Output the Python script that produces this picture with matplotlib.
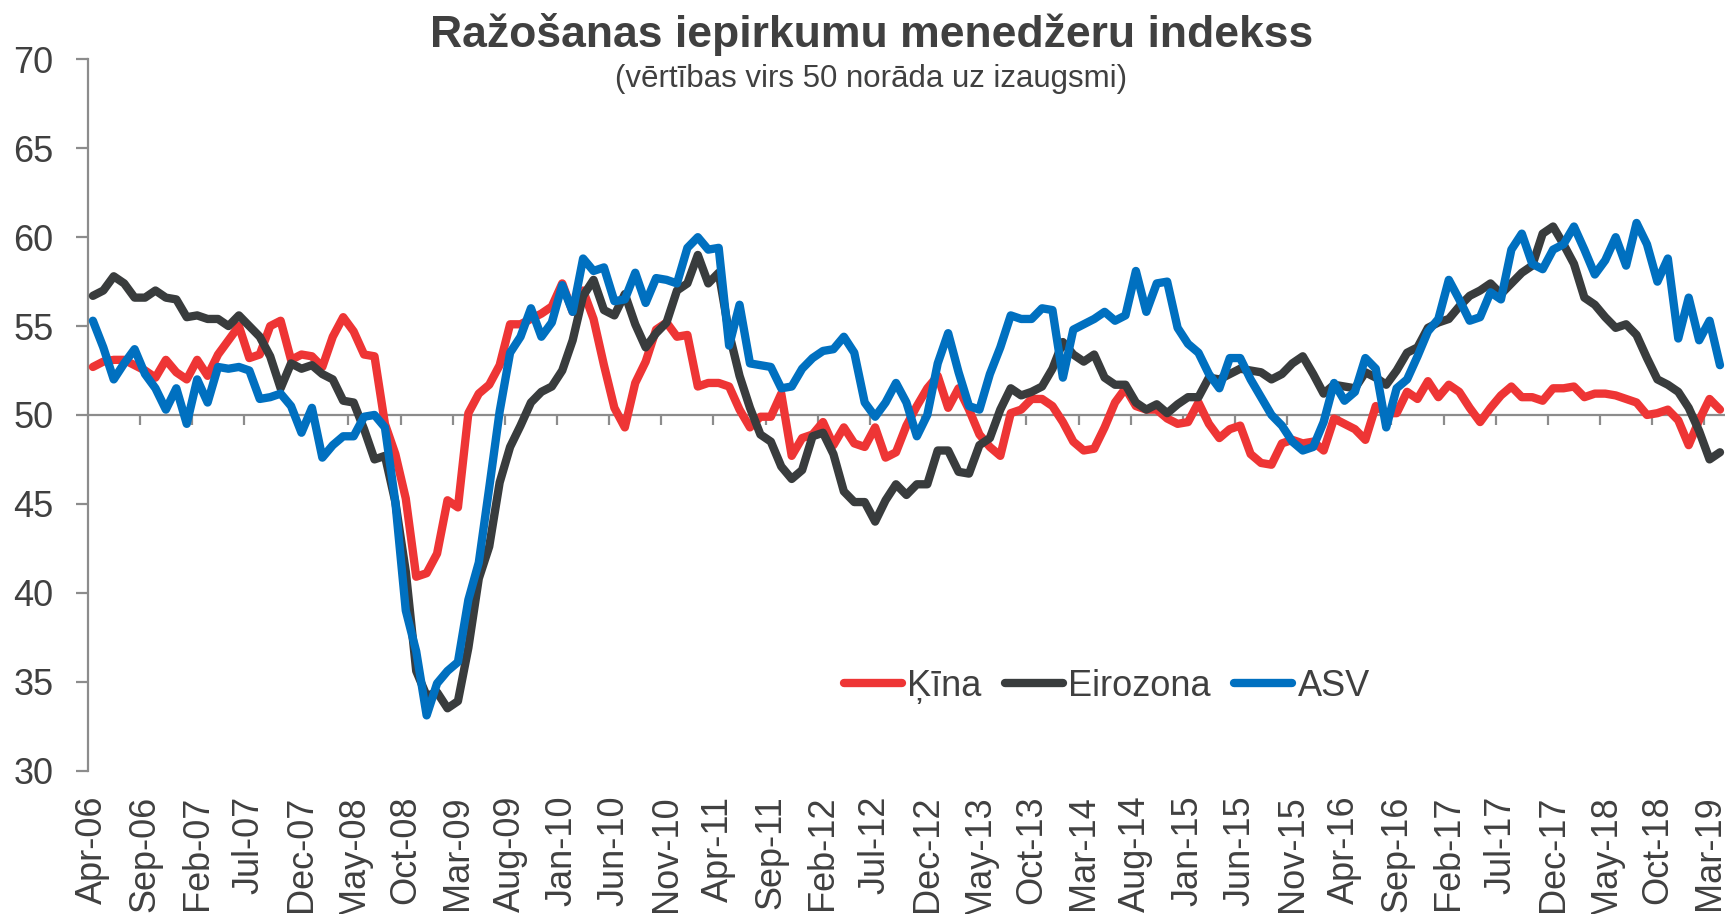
import numpy as np
import pandas as pd
import matplotlib
matplotlib.use('Agg')
import matplotlib.pyplot as plt

plt.rcParams['font.family'] = ['Liberation Sans', 'DejaVu Sans']

# Apr-06 .. Apr-19, monthly
months = pd.date_range('2006-04-01', periods=157, freq='MS')
month_labels = [d.strftime('%b-%y') for d in months]

kina = [52.7, 53.0, 53.1, 53.1, 52.8, 52.5, 52.1, 53.1, 52.4, 52.0,
        53.1, 52.2, 53.4, 54.2, 55.0, 53.2, 53.4, 55.0, 55.3, 53.1,
        53.4, 53.3, 52.7, 54.4, 55.5, 54.7, 53.4, 53.3, 49.5, 47.8,
        45.3, 40.9, 41.1, 42.2, 45.2, 44.8, 50.1, 51.2, 51.7, 52.8,
        55.1, 55.1, 55.4, 55.7, 56.1, 57.4, 55.8, 57.0, 55.4, 52.8,
        50.4, 49.3, 51.8, 53.0, 54.8, 55.2, 54.4, 54.5, 51.6, 51.8,
        51.8, 51.6, 50.3, 49.3, 49.9, 49.9, 51.2, 47.7, 48.7, 48.9,
        49.6, 48.3, 49.3, 48.4, 48.2, 49.3, 47.6, 47.9, 49.4, 50.5,
        51.5, 52.2, 50.4, 51.5, 50.3, 48.9, 48.2, 47.7, 50.1, 50.3,
        50.9, 50.9, 50.5, 49.6, 48.5, 48.0, 48.1, 49.3, 50.7, 51.5,
        50.5, 50.3, 50.3, 49.8, 49.5, 49.6, 50.7, 49.5, 48.7, 49.2,
        49.4, 47.8, 47.3, 47.2, 48.4, 48.6, 48.4, 48.5, 48.0, 49.8,
        49.5, 49.2, 48.6, 50.5, 50.1, 50.1, 51.3, 50.9, 51.9, 51.0,
        51.7, 51.3, 50.4, 49.6, 50.4, 51.1, 51.6, 51.0, 51.0, 50.8,
        51.5, 51.5, 51.6, 51.0, 51.2, 51.2, 51.1, 50.9, 50.7, 50.0,
        50.1, 50.3, 49.7, 48.3, 49.7, 50.9, 50.3]

eirozona = [56.7, 57.0, 57.8, 57.4, 56.6, 56.6, 57.0, 56.6, 56.5, 55.5,
            55.6, 55.4, 55.4, 55.0, 55.6, 55.0, 54.4, 53.3, 51.5, 52.9,
            52.6, 52.8, 52.3, 52.0, 50.8, 50.7, 49.2, 47.5, 47.7, 45.1,
            41.2, 35.6, 34.2, 34.4, 33.5, 33.9, 36.9, 40.8, 42.6, 46.2,
            48.2, 49.4, 50.7, 51.3, 51.6, 52.5, 54.2, 56.7, 57.6, 55.9,
            55.6, 56.8, 55.1, 53.8, 54.6, 55.2, 57.0, 57.4, 59.0, 57.4,
            58.0, 54.6, 52.2, 50.4, 48.9, 48.5, 47.1, 46.4, 46.9, 48.8,
            49.0, 47.8, 45.7, 45.1, 45.1, 44.0, 45.2, 46.1, 45.5, 46.1,
            46.1, 48.0, 48.0, 46.8, 46.7, 48.3, 48.7, 50.3, 51.5, 51.1,
            51.3, 51.6, 52.6, 54.1, 53.4, 53.0, 53.4, 52.1, 51.7, 51.7,
            50.7, 50.3, 50.6, 50.1, 50.6, 51.0, 51.0, 52.1, 52.0, 52.3,
            52.6, 52.5, 52.4, 52.0, 52.3, 52.9, 53.3, 52.3, 51.2, 51.7,
            51.6, 51.5, 52.4, 52.1, 51.7, 52.5, 53.5, 53.8, 54.9, 55.2,
            55.4, 56.1, 56.7, 57.0, 57.4, 56.8, 57.4, 58.0, 58.4, 60.2,
            60.6, 59.6, 58.5, 56.6, 56.2, 55.5, 54.9, 55.1, 54.5, 53.2,
            52.0, 51.7, 51.3, 50.4, 49.1, 47.5, 47.9]

asv = [55.3, 53.8, 52.0, 52.9, 53.7, 52.3, 51.5, 50.3, 51.5, 49.5,
       52.0, 50.7, 52.7, 52.6, 52.7, 52.5, 50.9, 51.0, 51.2, 50.5,
       49.0, 50.4, 47.6, 48.3, 48.8, 48.8, 49.9, 50.0, 49.3, 45.1,
       39.0, 36.7, 33.1, 34.9, 35.6, 36.1, 39.6, 41.7, 45.9, 50.2,
       53.5, 54.4, 56.0, 54.4, 55.2, 57.3, 55.8, 58.8, 58.1, 58.3,
       56.4, 56.5, 58.0, 56.3, 57.7, 57.6, 57.4, 59.4, 60.0, 59.3,
       59.4, 53.9, 56.2, 52.9, 52.8, 52.7, 51.5, 51.6, 52.6, 53.2,
       53.6, 53.7, 54.4, 53.5, 50.7, 49.9, 50.7, 51.8, 50.7, 48.8,
       50.0, 52.9, 54.6, 52.4, 50.5, 50.3, 52.3, 53.8, 55.6, 55.4,
       55.4, 56.0, 55.9, 52.1, 54.8, 55.1, 55.4, 55.8, 55.3, 55.6,
       58.1, 55.8, 57.4, 57.5, 54.9, 54.0, 53.5, 52.3, 51.5, 53.2,
       53.2, 52.0, 51.0, 50.0, 49.4, 48.5, 48.0, 48.2, 49.6, 51.8,
       50.8, 51.3, 53.2, 52.6, 49.3, 51.5, 52.0, 53.3, 54.7, 55.4,
       57.6, 56.5, 55.3, 55.5, 56.9, 56.5, 59.3, 60.2, 58.5, 58.2,
       59.3, 59.6, 60.6, 59.3, 57.9, 58.7, 60.0, 58.4, 60.8, 59.6,
       57.5, 58.8, 54.3, 56.6, 54.2, 55.3, 52.8]

series_names = ['Ķīna', 'Eirozona', 'ASV']
series_colors = ['#EE3535', '#393C3D', '#0070C0']
yticks = [30, 35, 40, 45, 50, 55, 60, 65, 70]

TXT = '#404040'
GRAY = '#8C8C8C'

fig = plt.figure(figsize=(17.29, 9.14), dpi=100)
ax = fig.add_axes([0.0507, 0.157, 0.9471, 0.778])

x = np.arange(len(months))
for vals, name, col in zip([kina, eirozona, asv], series_names, series_colors):
    ax.plot(x, vals, color=col, lw=6, label=name, solid_joinstyle='round',
            solid_capstyle='round', zorder=3)

# category axis crosses at 50
ax.axhline(50, color=GRAY, lw=1.6, zorder=2)
ax.vlines(np.arange(4.5, len(months), 5), 50 - 0.56, 50, color=GRAY, lw=1.6, zorder=2)

ax.set_xlim(-0.5, len(months) - 0.5)
ax.set_ylim(30, 70)
ax.set_yticks(yticks)
ax.set_xticks(x[::5])
ax.set_xticklabels(month_labels[::5], rotation=90)

for s in ['top', 'right', 'bottom']:
    ax.spines[s].set_visible(False)
ax.spines['left'].set_color(GRAY)
ax.spines['left'].set_linewidth(1.6)

ax.tick_params(axis='y', direction='out', length=8.6, width=1.6, color=GRAY,
               labelsize=26, labelcolor=TXT, pad=16)
ax.tick_params(axis='x', length=0, labelsize=26, labelcolor=TXT, pad=18)

leg = ax.legend(loc='center', bbox_to_anchor=(0.6225, 0.118), ncol=3, frameon=False,
                fontsize=26, handlelength=1.6, handletextpad=0.15, columnspacing=0.65,
                borderaxespad=0)
for t in leg.get_texts():
    t.set_color(TXT)

fig.text(0.504, 1 - 47 / 914, 'Ražošanas iepirkumu menedžeru indekss', ha='center',
         va='baseline', fontsize=32, fontweight='bold', color=TXT)
fig.text(0.504, 1 - 87 / 914, '(vērtības virs 50 norāda uz izaugsmi)', ha='center',
         va='baseline', fontsize=22.5, color=TXT)

fig.savefig('out.png', dpi=100)
